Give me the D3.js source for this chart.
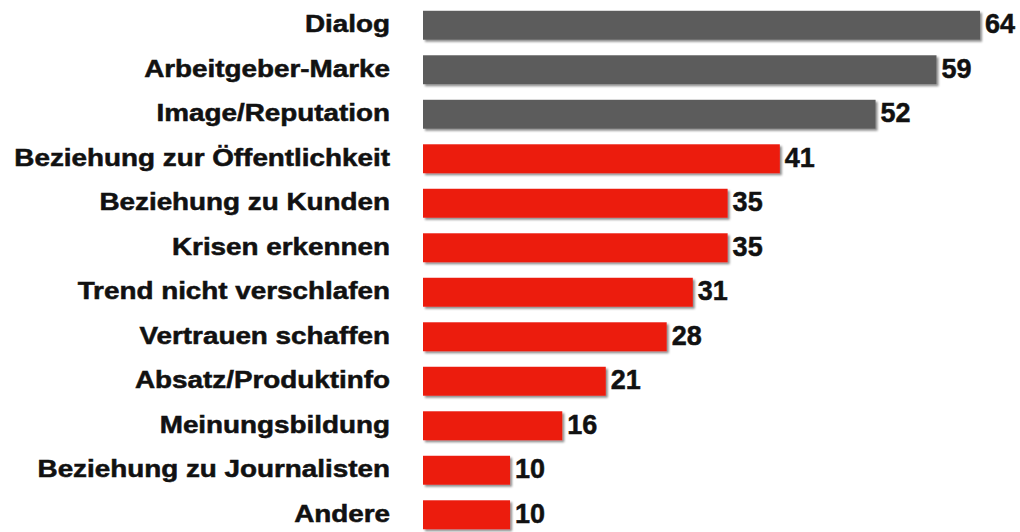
<!DOCTYPE html>
<html>
<head>
<meta charset="utf-8">
<script src="https://cdn.jsdelivr.net/npm/d3@7"></script>
<style>
  body { margin: 0; background: #fff; }
  text { font-family: "Liberation Sans", Arial, sans-serif; font-weight: bold; }
</style>
</head>
<body>
<figure id="bars" style="margin:0"></figure>
<script>
const categories = ["Dialog", "Arbeitgeber-Marke", "Image/Reputation", "Beziehung zur Öffentlichkeit",
  "Beziehung zu Kunden", "Krisen erkennen", "Trend nicht verschlafen", "Vertrauen schaffen",
  "Absatz/Produktinfo", "Meinungsbildung", "Beziehung zu Journalisten", "Andere"];
const values = [64, 59, 52, 41, 35, 35, 31, 28, 21, 16, 10, 10];
const highlighted = ["Dialog", "Arbeitgeber-Marke", "Image/Reputation"];

const width = 1020, height = 532;
const data = categories.map((c, i) => ({ name: c, value: values[i] }));

const svg = d3.select("figure#bars").append("svg")
  .attr("width", width).attr("height", height);

const defs = svg.append("defs");
const f = defs.append("filter").attr("id", "shadow")
  .attr("x", "-5%").attr("y", "-20%").attr("width", "115%").attr("height", "160%");
f.append("feDropShadow").attr("dx", 2).attr("dy", 2).attr("stdDeviation", 1.2)
  .attr("flood-color", "#000").attr("flood-opacity", 0.45);

const x = d3.scaleLinear().domain([0, 64]).range([423, 980]);
const y = d3.scaleBand().domain(categories).range([3, 537])
  .paddingInner(0.35).paddingOuter(0.175);

// bars
svg.selectAll("rect.bar").data(data).enter()
  .append("rect")
  .attr("class", "bar")
  .attr("x", x(0))
  .attr("y", d => y(d.name))
  .attr("width", d => x(d.value) - x(0))
  .attr("height", y.bandwidth())
  .attr("fill", d => highlighted.includes(d.name) ? "#5b5b5b" : "#ec1a10")
  .attr("filter", "url(#shadow)");

// category labels, stretched so the longest one starts near the left edge
const labelX = 390;
const cats = svg.selectAll("text.cat").data(data).enter()
  .append("text")
  .attr("class", "cat")
  .attr("x", 0)
  .attr("y", 0)
  .attr("text-anchor", "end")
  .style("font-size", "23px")
  .attr("fill", "#111")
  .attr("stroke", "#111").attr("stroke-width", 0.5)
  .text(d => d.name);

let longest = 0;
cats.each(function() { longest = Math.max(longest, this.getComputedTextLength()); });
const sx = 376 / longest;
cats.attr("transform", d => "translate(" + labelX + "," + (y(d.name) + y.bandwidth() / 2 + 7) + ") scale(" + sx + ",1)");

// value labels
svg.selectAll("text.val").data(data).enter()
  .append("text")
  .attr("class", "val")
  .attr("x", d => x(d.value) + 5)
  .attr("y", d => y(d.name) + y.bandwidth() / 2 + 8)
  .style("font-size", "27px")
  .attr("fill", "#111")
  .attr("stroke", "#111").attr("stroke-width", 0.5)
  .text(d => d.value);
</script>
</body>
</html>
